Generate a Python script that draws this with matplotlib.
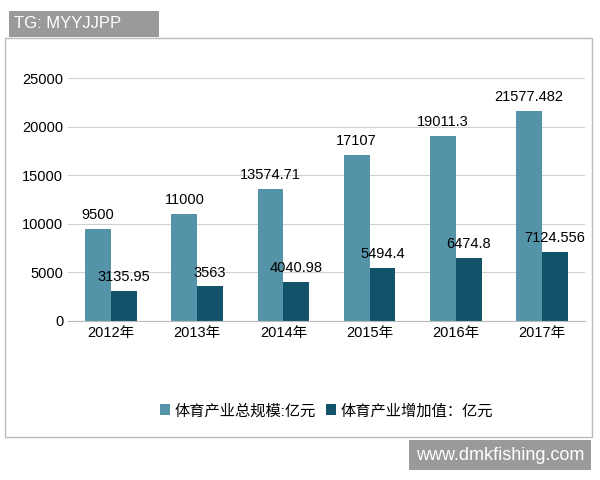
import matplotlib.pyplot as plt
import numpy as np
from matplotlib.patches import Rectangle

plt.rcParams['font.family'] = ['Liberation Sans', 'Noto Sans CJK SC', 'DejaVu Sans']

years = ['2012年', '2013年', '2014年', '2015年', '2016年', '2017年']
total = [9500, 11000, 13574.71, 17107, 19011.3, 21577.482]
added = [3135.95, 3563, 4040.98, 5494.4, 6474.8, 7124.556]
total_lbl = ['9500', '11000', '13574.71', '17107', '19011.3', '21577.482']
added_lbl = ['3135.95', '3563', '4040.98', '5494.4', '6474.8', '7124.556']

fig = plt.figure(figsize=(6, 4.8), dpi=100)
fig.patches.append(Rectangle((5/600, 1-437/480), 587/600, 399/480, transform=fig.transFigure,
                             fill=False, edgecolor='#bbbbbb', lw=1))
ax = fig.add_axes([68/600, 1-321/480, 517/600, 243/480])

x = np.arange(len(years))
w = 0.3
c1, c2 = '#5593a9', '#13536a'
ax.bar(x - w/2, total, w, color=c1, label='体育产业总规模:亿元')
ax.bar(x + w/2, added, w, color=c2, label='体育产业增加值：亿元')
for i in x:
    ax.text(i - w/2, total[i] + 700, total_lbl[i], ha='center', va='bottom', fontsize=10.5)
    ax.text(i + w/2, added[i] + 700, added_lbl[i], ha='center', va='bottom', fontsize=10.5)

ax.set_ylim(0, 25000)
ax.set_yticks(range(0, 25001, 5000))
ax.set_xlim(-0.5, 5.5)
ax.set_xticks(x)
ax.set_xticklabels(years)
ax.tick_params(axis='both', length=0, labelsize=10.5)
ax.grid(axis='y', color='#d0d0d0', lw=0.8)
ax.set_axisbelow(True)
for s in ['top', 'right', 'left']:
    ax.spines[s].set_visible(False)
ax.spines['bottom'].set_color('#bbbbbb')

ax.legend(loc='center', bbox_to_anchor=(0.5, -0.37), ncol=2, frameon=False,
          fontsize=11, handlelength=0.7, handleheight=0.7, columnspacing=0.6, handletextpad=0.3)

fig.text(14/600, 1-24/480, 'TG: MYYJJPP       ', color='white', fontsize=12, va='center',
         bbox=dict(facecolor='#9a9a9a', edgecolor='none', pad=4))
fig.text(584/600, 1-455/480, 'www.dmkfishing.com', color='white', fontsize=13, va='center', ha='right',
         bbox=dict(facecolor='#9a9a9a', edgecolor='none', pad=5))

fig.savefig('out.png')
